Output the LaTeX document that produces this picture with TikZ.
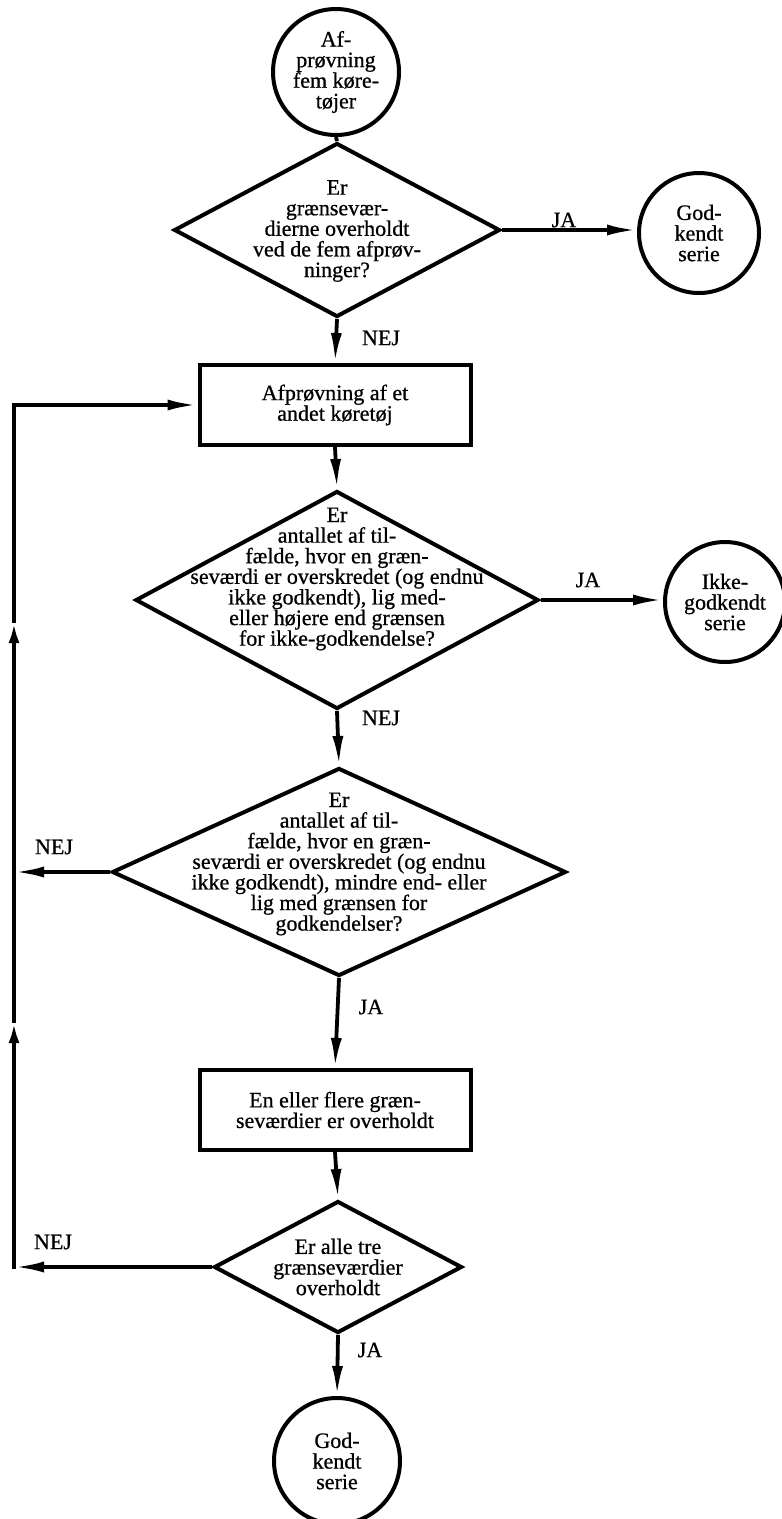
\documentclass[tikz,border=0pt]{standalone}
\usepackage{fontspec}
\setmainfont{Liberation Serif}[FakeBold=0.7]
\usetikzlibrary{shapes.geometric,arrows.meta}
\begin{document}
\begin{tikzpicture}[x=1pt,y=-1pt,
  every node/.style={font=\fontsize{22}{20.6}\selectfont},
  shapeline/.style={draw, line width=4pt},
  circ/.style={shapeline, circle, minimum size=#1, inner sep=0pt, align=center},
  dia/.style={shapeline, diamond, inner sep=0pt, line join=miter},
  boxn/.style={shapeline, rectangle, minimum width=271pt, minimum height=80pt, align=center, inner sep=0pt},
  txt/.style={align=center, inner sep=0pt},
  lbl/.style={inner sep=0pt},
  conn/.style={line width=3.8pt},
  arr/.style={conn, -{Latex[length=30pt,width=11pt]}},
  arrs/.style={conn, -{Latex[length=20pt,width=11pt]}},
]
\fill[white] (0,0) rectangle (782,1519);
\useasboundingbox (0,0) rectangle (782,1519);

% nodes
\node[circ=126pt] (c1) at (336,72) {Af-\\prøvning\\fem køre-\\tøjer};
\node[dia, minimum width=326pt, minimum height=174pt] (d1) at (337,230) {};
\node[txt] (d1t) at (337,231) {Er\\grænsevær-\\dierne overholdt\\ved de fem afprøv-\\ninger?};
\node[circ=120pt] (c2) at (699,233) {God-\\kendt\\serie};
\node[boxn] (b1) at (335,405) {Afprøvning af et\\andet køretøj};
\node[dia, minimum width=403pt, minimum height=218pt] (d2) at (337,600) {};
\node[txt] (d2t) at (337,579) {Er\\antallet af til-\\fælde, hvor en græn-\\seværdi er overskredet (og endnu\\ikke godkendt), lig med-\\eller højere end grænsen\\for ikke-godkendelse?};
\node[circ=120pt] (c3) at (725,602) {Ikke-\\godkendt\\serie};
\node[dia, minimum width=454pt, minimum height=208pt] (d3) at (339,872) {};
\node[txt] (d3t) at (339,864) {Er\\antallet af til-\\fælde, hvor en græn-\\seværdi er overskredet (og endnu\\ikke godkendt), mindre end- eller\\lig med grænsen for\\godkendelser?};
\node[boxn] (b2) at (335,1110) {En eller flere græn-\\seværdier er overholdt};
\node[dia, minimum width=248pt, minimum height=132pt] (d4) at (338,1267) {};
\node[txt] (d4t) at (338,1267) {Er alle tre\\grænseværdier\\overholdt};
\node[circ=126pt] (c4) at (337,1461) {God-\\kendt\\serie};

% labels
\node[lbl] (ja1) at (564,220) {JA};
\node[lbl] (nej1) at (381,338) {NEJ};
\node[lbl] (ja2) at (588,580) {JA};
\node[lbl] (nej2) at (381,718) {NEJ};
\node[lbl] (nej3) at (54,847) {NEJ};
\node[lbl] (ja3) at (371,1007) {JA};
\node[lbl] (nej4) at (53,1242) {NEJ};
\node[lbl] (ja4) at (370,1350) {JA};

% loop coordinates
\coordinate (lx) at (14,0);
\coordinate (m1) at (14,1023);
\coordinate (m2) at (14,623);
\coordinate (corner) at (d4.west -| lx);

% connectors
\draw[conn] (c1.south) -- (d1.north);
\draw[arr] (d1.east) -- (d1.east -| c2.west);
\draw[arr] (d1.south) -- (b1.north);
\draw[arr] (b1.south) -- (d2.north);
\draw[arr] (d2.east) -- (d2.east -| c3.west);
\draw[arr] (d2.south) -- (d3.north);
\draw[arr] (d3.south) -- (b2.north);
\draw[arr] (b2.south) -- (d4.north);
\draw[arr] (d4.south) -- (c4.north);

\draw[arr] (d3.west) -- (d3.west -| lx);
\draw[arr] (d4.west) -- (corner);
\draw[arrs, line cap=rect] (corner) -- (m1);
\draw[arrs] (m1) -- (m2);
\draw[arr] (m2) |- (b1.west);
\end{tikzpicture}
\end{document}
